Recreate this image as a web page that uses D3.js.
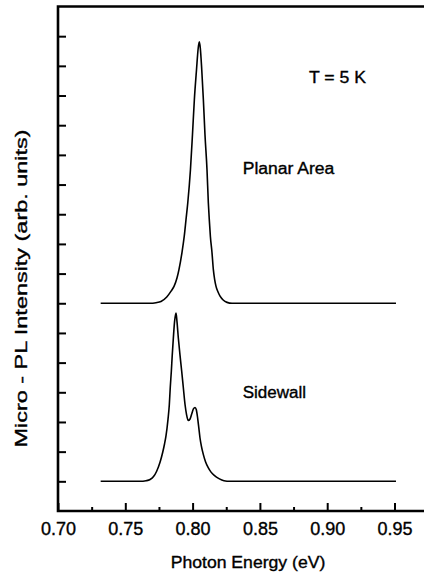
<!DOCTYPE html>
<html>
<head>
<meta charset="utf-8">
<script src="https://cdn.jsdelivr.net/npm/d3@7"></script>
<style>
  html, body { margin: 0; padding: 0; background: #fff; }
  svg { display: block; font-family: "Liberation Sans", Arial, sans-serif; }
  text { stroke: #000; stroke-width: 0.35px; fill: #000; }
</style>
</head>
<body>
<div id="chart"></div>
<script>
// Planar area spectrum (offset baseline at 7)
const planarEnergy = [0.7317, 0.7684, 0.7728, 0.7765, 0.7808, 0.7840, 0.7862, 0.7884, 0.7899, 0.7921,
    0.7938, 0.7951, 0.7964, 0.7984, 0.7999, 0.8013, 0.8029, 0.8042, 0.8050, 0.8057,
    0.8068, 0.8080, 0.8092, 0.8107, 0.8117, 0.8124, 0.8132, 0.8144, 0.8154, 0.8164,
    0.8174, 0.8189, 0.8204, 0.8227, 0.8256, 0.8293, 0.9511];
const planarIntensity = [7.00, 7.00, 7.02, 7.06, 7.21, 7.41, 7.57, 7.85, 8.14, 8.71,
    9.26, 9.82, 10.38, 11.50, 12.68, 13.86, 14.87, 15.61, 15.81, 15.61,
    14.87, 13.86, 12.68, 11.50, 10.38, 9.82, 9.26, 8.71, 8.14, 7.80,
    7.57, 7.38, 7.24, 7.11, 7.03, 7.00, 7.00];

// Sidewall spectrum (baseline at 1)
const sidewallEnergy = [0.7317, 0.7609, 0.7654, 0.7684, 0.7710, 0.7733, 0.7758, 0.7778, 0.7791, 0.7802,
    0.7817, 0.7827, 0.7834, 0.7842, 0.7849, 0.7857, 0.7866, 0.7877, 0.7884, 0.7894,
    0.7906, 0.7919, 0.7931, 0.7944, 0.7955, 0.7968, 0.7981, 0.7994, 0.8007, 0.8018,
    0.8027, 0.8037, 0.8046, 0.8055, 0.8066, 0.8080, 0.8096, 0.8117, 0.8137, 0.8163,
    0.8196, 0.8233, 0.8278, 0.9511];
const sidewallIntensity = [1.00, 1.00, 1.02, 1.06, 1.16, 1.34, 1.64, 1.98, 2.25, 2.52,
    3.08, 3.58, 4.16, 4.71, 5.27, 5.83, 6.38, 6.67, 6.38, 5.83,
    5.27, 4.71, 4.16, 3.58, 3.25, 3.05, 3.10, 3.28, 3.45, 3.49,
    3.42, 3.15, 2.81, 2.46, 2.17, 1.90, 1.66, 1.45, 1.31, 1.19,
    1.09, 1.02, 1.00, 1.00];

const xMajorTicks = [0.70, 0.75, 0.80, 0.85, 0.90, 0.95];
const xMinorTicks = [0.725, 0.775, 0.825, 0.875, 0.925, 0.975];
const yTicks = d3.range(1, 17);

const width = 424, height = 575;
const plotLeft = 58, plotTop = 6.5, plotBottom = 511;

const svg = d3.select("#chart").append("svg")
    .attr("width", width)
    .attr("height", height);

const x = d3.scaleLinear().domain([0.70, 1.00]).range([plotLeft, plotLeft + 6 * 67.3]);
const y = d3.scaleLinear().domain([0, 17]).range([plotBottom, plotTop]);

// x axis, ticks pointing inward
const xAxis = svg.append("g")
    .attr("transform", `translate(0,${plotBottom})`)
    .call(d3.axisBottom(x).tickValues(xMajorTicks).tickSize(-8).tickPadding(11)
        .tickFormat(d3.format(".2f")));
xAxis.select(".domain").remove();
xAxis.selectAll("line").attr("stroke", "#000").attr("stroke-width", 2);
xAxis.selectAll("text").attr("font-size", 18)
    .attr("font-family", "Liberation Sans, Arial, sans-serif");

const xMinor = svg.append("g")
    .attr("transform", `translate(0,${plotBottom})`)
    .call(d3.axisBottom(x).tickValues(xMinorTicks).tickSize(-4).tickFormat(""));
xMinor.select(".domain").remove();
xMinor.selectAll("line").attr("stroke", "#000").attr("stroke-width", 2);

// y axis, no labels
const yAxis = svg.append("g")
    .attr("transform", `translate(${plotLeft},0)`)
    .call(d3.axisLeft(y).tickValues(yTicks).tickSize(-8).tickFormat(""));
yAxis.select(".domain").remove();
yAxis.selectAll("line").attr("stroke", "#000").attr("stroke-width", 2);

// frame
svg.append("path")
    .attr("d", `M${width + 10},${plotTop}H${plotLeft}V${plotBottom}H${width + 10}`)
    .attr("fill", "none")
    .attr("stroke", "#000")
    .attr("stroke-width", 2.6);

// spectra
const line = d3.line()
    .x(d => x(d[0]))
    .y(d => y(d[1]))
    .curve(d3.curveMonotoneX);

[[planarEnergy, planarIntensity], [sidewallEnergy, sidewallIntensity]].forEach(([e, v]) => {
    svg.append("path")
        .datum(e.map((d, i) => [d, v[i]]))
        .attr("d", line)
        .attr("fill", "none")
        .attr("stroke", "#000")
        .attr("stroke-width", 1.6)
        .attr("stroke-linejoin", "round");
});

// labels
const labels = [
    { text: "T = 5 K", x: 309, y: 83, len: 57 },
    { text: "Planar Area", x: 242.7, y: 174, len: 91.6 },
    { text: "Sidewall", x: 242.7, y: 398.3, len: 63.3 },
    { text: "Photon Energy (eV)", x: 170.7, y: 568, len: 154.6 }
];
svg.append("g")
    .selectAll("text")
    .data(labels)
    .join("text")
    .attr("x", d => d.x)
    .attr("y", d => d.y)
    .attr("font-size", 16)
    .attr("textLength", d => d.len)
    .attr("lengthAdjust", "spacingAndGlyphs")
    .text(d => d.text);

svg.append("text")
    .attr("transform", "translate(26.5,288.5) rotate(-90)")
    .attr("text-anchor", "middle")
    .attr("font-size", 17)
    .attr("textLength", 318)
    .attr("lengthAdjust", "spacingAndGlyphs")
    .text("Micro - PL Intensity (arb. units)");
</script>
</body>
</html>
